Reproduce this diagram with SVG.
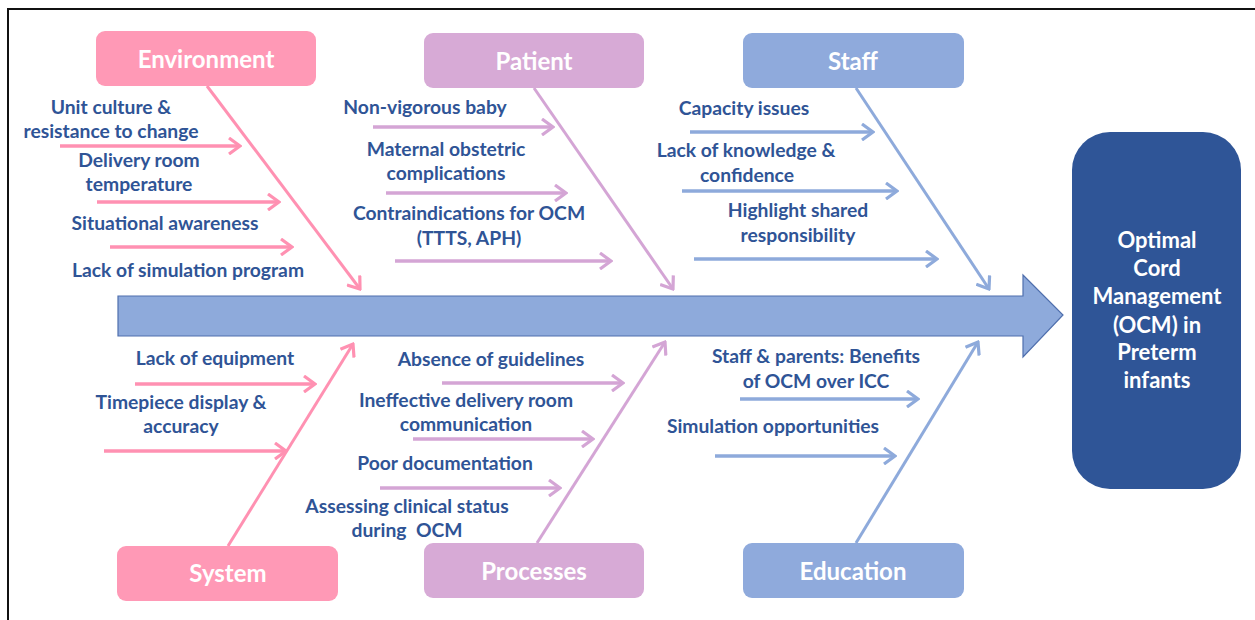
<svg xmlns="http://www.w3.org/2000/svg" width="1255" height="620" viewBox="0 0 1255 620">
<defs>
<style>
.t{font-family:Lato,"Liberation Sans",sans-serif;font-weight:bold;font-size:19.3px;fill:#2f5496;text-anchor:middle}
.b{font-family:Lato,"Liberation Sans",sans-serif;font-weight:bold;font-size:24px;fill:#ffffff;text-anchor:middle}
.o{font-family:Lato,"Liberation Sans",sans-serif;font-weight:bold;font-size:22px;fill:#ffffff;text-anchor:middle}
.pk{stroke:#ff91b2;stroke-width:3.5;fill:none}
.pu{stroke:#d4a5d5;stroke-width:3.5;fill:none}
.bl{stroke:#8eaadb;stroke-width:3.5;fill:none}
.bone{stroke-width:3}
</style>
<marker id="mpk" viewBox="0 0 14 18" refX="12" refY="9" markerWidth="14" markerHeight="18" markerUnits="userSpaceOnUse" orient="auto"><path d="M1,1 L12,9 L1,17" fill="none" stroke="#ff91b2" stroke-width="3.2"/></marker>
<marker id="mpu" viewBox="0 0 14 18" refX="12" refY="9" markerWidth="14" markerHeight="18" markerUnits="userSpaceOnUse" orient="auto"><path d="M1,1 L12,9 L1,17" fill="none" stroke="#d4a5d5" stroke-width="3.2"/></marker>
<marker id="mbl" viewBox="0 0 14 18" refX="12" refY="9" markerWidth="14" markerHeight="18" markerUnits="userSpaceOnUse" orient="auto"><path d="M1,1 L12,9 L1,17" fill="none" stroke="#8eaadb" stroke-width="3.2"/></marker>
</defs>
<rect width="1255" height="620" fill="#ffffff"/>
<path d="M8,620 V9 H1255" fill="none" stroke="#111111" stroke-width="2"/>

<g id="spine">
<polygon points="118,296 1023,296 1023,275 1063,315 1023,357 1023,336 118,336" fill="#8eaadb" stroke="#4f6fad" stroke-width="1.2"/>
</g>

<g id="connectors">
<line class="pk bone" x1="207" y1="86" x2="360" y2="289" marker-end="url(#mpk)"/>
<line class="pu bone" x1="534" y1="88" x2="673" y2="289" marker-end="url(#mpu)"/>
<line class="bl bone" x1="856" y1="88" x2="989" y2="289" marker-end="url(#mbl)"/>
<line class="pk bone" x1="228" y1="546" x2="353" y2="344" marker-end="url(#mpk)"/>
<line class="pu bone" x1="537" y1="543" x2="665" y2="342" marker-end="url(#mpu)"/>
<line class="bl bone" x1="856" y1="543" x2="978" y2="342" marker-end="url(#mbl)"/>

<line class="pk" x1="60" y1="146" x2="240" y2="146" marker-end="url(#mpk)"/>
<line class="pk" x1="97" y1="202" x2="279" y2="202" marker-end="url(#mpk)"/>
<line class="pk" x1="110" y1="247" x2="292" y2="247" marker-end="url(#mpk)"/>
<line class="pu" x1="373" y1="127" x2="553" y2="127" marker-end="url(#mpu)"/>
<line class="pu" x1="386" y1="193" x2="566" y2="193" marker-end="url(#mpu)"/>
<line class="pu" x1="395" y1="261" x2="611" y2="261" marker-end="url(#mpu)"/>
<line class="bl" x1="690" y1="132" x2="873" y2="132" marker-end="url(#mbl)"/>
<line class="bl" x1="682" y1="191" x2="897" y2="191" marker-end="url(#mbl)"/>
<line class="bl" x1="694" y1="259" x2="937" y2="259" marker-end="url(#mbl)"/>
<line class="pk" x1="135" y1="384" x2="315" y2="384" marker-end="url(#mpk)"/>
<line class="pk" x1="104" y1="451" x2="286" y2="451" marker-end="url(#mpk)"/>
<line class="pu" x1="442" y1="383" x2="623" y2="383" marker-end="url(#mpu)"/>
<line class="pu" x1="413" y1="439" x2="593" y2="439" marker-end="url(#mpu)"/>
<line class="pu" x1="380" y1="488" x2="560" y2="488" marker-end="url(#mpu)"/>
<line class="bl" x1="740" y1="399" x2="918" y2="399" marker-end="url(#mbl)"/>
<line class="bl" x1="715" y1="456" x2="895" y2="456" marker-end="url(#mbl)"/>
</g>

<g id="environment">
<rect x="96" y="31" width="220" height="55" rx="9" fill="#ff99b6"/>
<text class="b" x="206" y="68">Environment</text>
</g>
<g id="patient">
<rect x="424" y="33" width="220" height="55" rx="9" fill="#d7aad6"/>
<text class="b" x="534" y="70">Patient</text>
</g>
<g id="staff">
<rect x="743" y="33" width="221" height="55" rx="9" fill="#8faadc"/>
<text class="b" x="853" y="70">Staff</text>
</g>
<g id="system">
<rect x="117" y="546" width="221" height="55" rx="9" fill="#ff99b6"/>
<text class="b" x="228" y="582">System</text>
</g>
<g id="processes">
<rect x="424" y="543" width="220" height="55" rx="9" fill="#d7aad6"/>
<text class="b" x="534" y="580">Processes</text>
</g>
<g id="education">
<rect x="743" y="543" width="221" height="55" rx="9" fill="#8faadc"/>
<text class="b" x="853" y="580">Education</text>
</g>
<g id="ocm">
<rect x="1072" y="132" width="169" height="357" rx="38" fill="#2f5597"/>
<text class="o" x="1157" y="248">Optimal</text>
<text class="o" x="1157" y="276">Cord</text>
<text class="o" x="1157" y="304">Management</text>
<text class="o" x="1157" y="333">(OCM) in</text>
<text class="o" x="1157" y="360">Preterm</text>
<text class="o" x="1157" y="388">infants</text>
</g>

<g id="env-causes">
<text class="t" x="111" y="114">Unit culture &amp;</text>
<text class="t" x="111" y="138">resistance to change</text>
<text class="t" x="139" y="167">Delivery room</text>
<text class="t" x="139" y="191">temperature</text>
<text class="t" x="165" y="230">Situational awareness</text>
<text class="t" x="188" y="277">Lack of simulation program</text>
</g>
<g id="patient-causes">
<text class="t" x="425" y="114">Non-vigorous baby</text>
<text class="t" x="446" y="156">Maternal obstetric</text>
<text class="t" x="446" y="180">complications</text>
<text class="t" x="469" y="220">Contraindications for OCM</text>
<text class="t" x="469" y="245">(TTTS, APH)</text>
</g>
<g id="staff-causes">
<text class="t" x="744" y="115">Capacity issues</text>
<text class="t" x="746" y="157">Lack of knowledge &amp;</text>
<text class="t" x="747" y="182">confidence</text>
<text class="t" x="798" y="217">Highlight shared</text>
<text class="t" x="798" y="242">responsibility</text>
</g>
<g id="system-causes">
<text class="t" x="215" y="365">Lack of equipment</text>
<text class="t" x="181" y="409">Timepiece display &amp;</text>
<text class="t" x="181" y="433">accuracy</text>
</g>
<g id="process-causes">
<text class="t" x="491" y="366">Absence of guidelines</text>
<text class="t" x="466" y="407">Ineffective delivery room</text>
<text class="t" x="466" y="431">communication</text>
<text class="t" x="445" y="470">Poor documentation</text>
<text class="t" x="407" y="513">Assessing clinical status</text>
<text class="t" x="407" y="537" xml:space="preserve">during  OCM</text>
</g>
<g id="education-causes">
<text class="t" x="816" y="363">Staff &amp; parents: Benefits</text>
<text class="t" x="816" y="388">of OCM over ICC</text>
<text class="t" x="773" y="433">Simulation opportunities</text>
</g>
</svg>
